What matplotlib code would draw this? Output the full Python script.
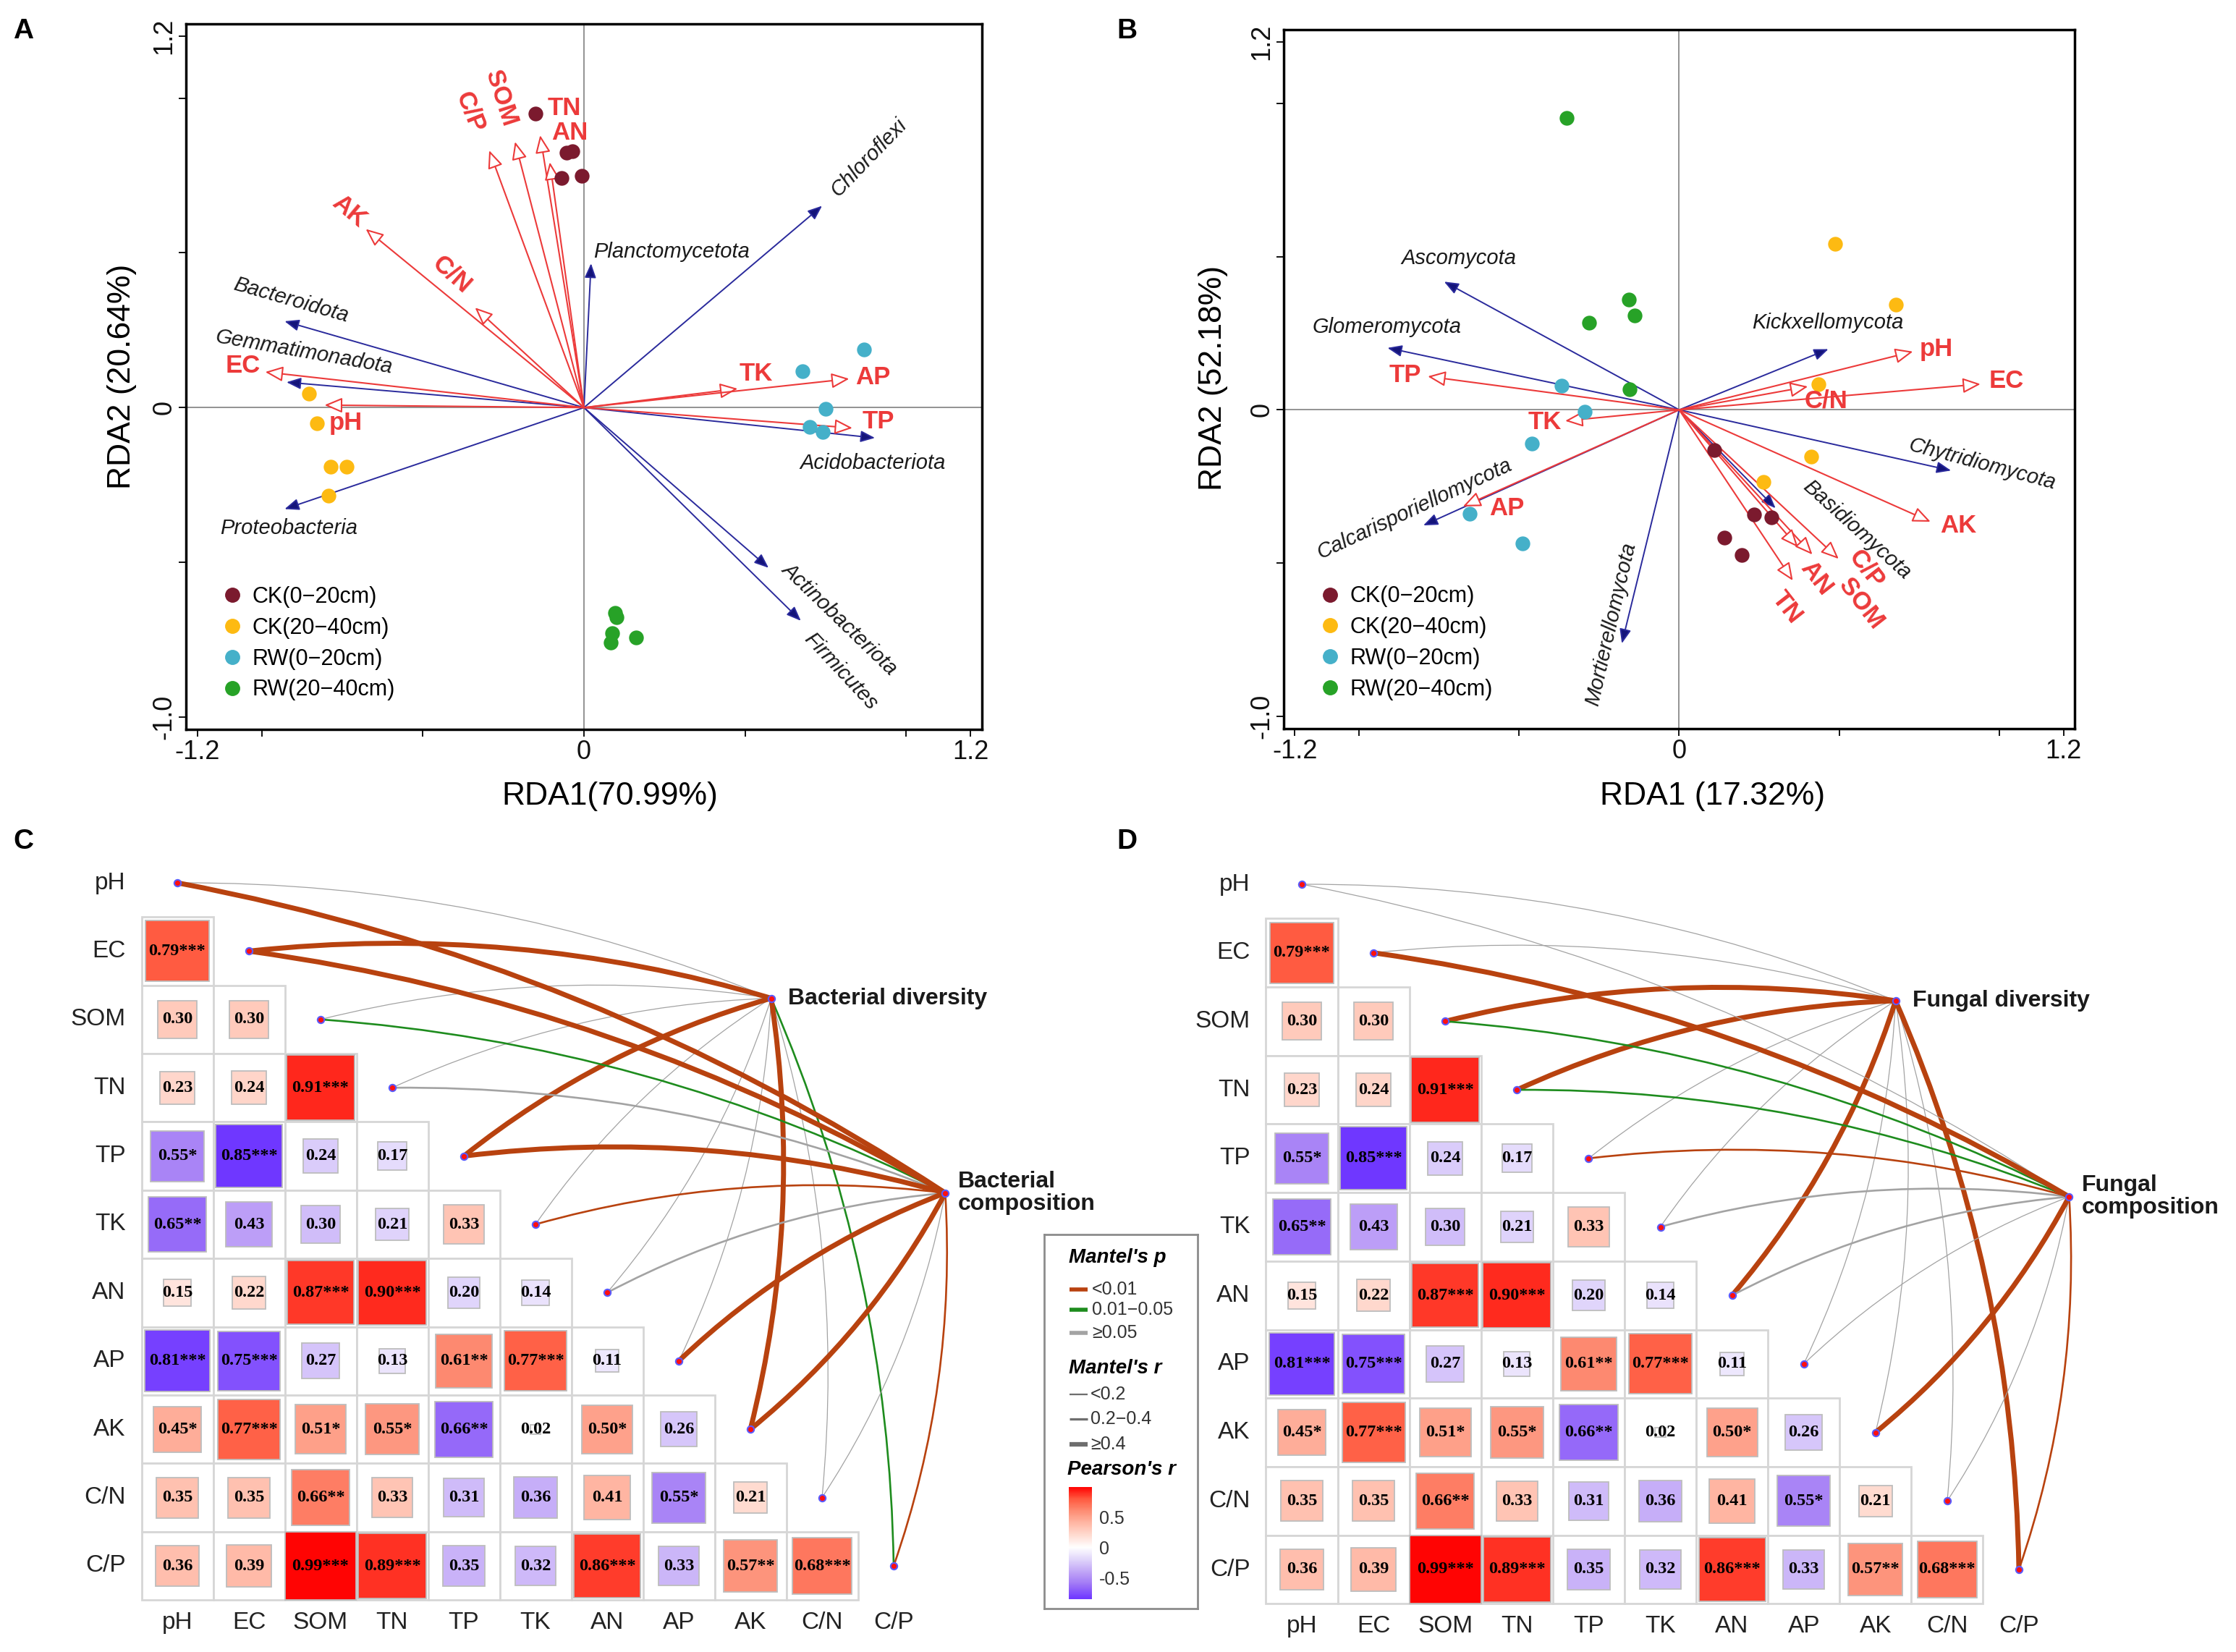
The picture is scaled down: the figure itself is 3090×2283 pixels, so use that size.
import numpy as np
import matplotlib
matplotlib.use("Agg")
import matplotlib.pyplot as plt
from matplotlib.colors import LinearSegmentedColormap, Normalize
from matplotlib.patches import Rectangle, FancyArrowPatch
from matplotlib.lines import Line2D

plt.rcParams['font.family'] = ['Liberation Sans', 'DejaVu Sans']

W, H = 3090, 2283

# ---------------- RDA data ----------------
groups = ["CK(0\u221220cm)", "CK(20\u221240cm)", "RW(0\u221220cm)", "RW(20\u221240cm)"]
group_colors = ["#7B1A2E", "#FDBA12", "#45B0C9", "#27A227"]

# panel A sample scores (bacteria)
a_ck1_x = [-0.150, -0.054, -0.036, -0.070, -0.006]
a_ck1_y = [0.951, 0.823, 0.828, 0.741, 0.749]
a_ck2_x = [-0.853, -0.829, -0.785, -0.737, -0.793]
a_ck2_y = [0.044, -0.051, -0.190, -0.190, -0.284]
a_rw1_x = [0.869, 0.679, 0.751, 0.701, 0.741]
a_rw1_y = [0.187, 0.118, -0.003, -0.062, -0.080]
a_rw2_x = [0.096, 0.100, 0.088, 0.084, 0.162]
a_rw2_y = [-0.664, -0.677, -0.728, -0.759, -0.744]

env_names = ["pH", "EC", "SOM", "TN", "TP", "TK", "AN", "AP", "AK", "C/N", "C/P"]
a_env_x = [-0.805, -0.989, -0.214, -0.136, 0.833, 0.477, -0.106, 0.823, -0.677, -0.338, -0.294]
a_env_y = [0.008, 0.115, 0.859, 0.880, -0.066, 0.061, 0.793, 0.093, 0.577, 0.323, 0.831]

a_taxa = ["Chloroflexi", "Planctomycetota", "Bacteroidota", "Gemmatimonadota",
          "Proteobacteria", "Acidobacteriota", "Actinobacteriota", "Firmicutes"]
a_taxa_x = [0.739, 0.022, -0.929, -0.923, -0.929, 0.903, 0.573, 0.673]
a_taxa_y = [0.652, 0.466, 0.279, 0.082, -0.328, -0.098, -0.518, -0.689]

# panel B sample scores (fungi)
b_ck1_x = [0.110, 0.234, 0.287, 0.142, 0.195]
b_ck1_y = [-0.131, -0.342, -0.350, -0.417, -0.474]
b_ck2_x = [0.486, 0.677, 0.436, 0.413, 0.264]
b_ck2_y = [0.542, 0.344, 0.084, -0.152, -0.235]
b_rw1_x = [-0.367, -0.294, -0.459, -0.654, -0.489]
b_rw1_y = [0.079, -0.007, -0.111, -0.339, -0.436]
b_rw2_x = [-0.351, -0.156, -0.138, -0.282, -0.154]
b_rw2_y = [0.952, 0.360, 0.307, 0.283, 0.066]

b_env_x = [0.730, 0.941, 0.416, 0.355, -0.785, -0.356, 0.371, -0.675, 0.785, 0.402, 0.498]
b_env_y = [0.190, 0.084, -0.472, -0.557, 0.109, -0.036, -0.448, -0.315, -0.365, 0.076, -0.486]

b_taxa = ["Ascomycota", "Glomeromycota", "Kickxellomycota", "Chytridiomycota",
          "Basidiomycota", "Calcarisporiellomycota", "Mortierellomycota"]
b_taxa_x = [-0.734, -0.911, 0.466, 0.849, 0.301, -0.799, -0.179]
b_taxa_y = [0.418, 0.202, 0.198, -0.198, -0.321, -0.377, -0.762]

# label placement (x, y, rotation)
a_env_lab = {"pH": (-0.739, -0.049, 0), "EC": (-1.059, 0.134, 0), "SOM": (-0.258, 1.0, -72),
             "TN": (-0.062, 0.967, 0), "TP": (0.913, -0.046, 0), "TK": (0.533, 0.110, 0),
             "AN": (-0.044, 0.889, 0), "AP": (0.897, 0.098, 0), "AK": (-0.729, 0.634, -40),
             "C/N": (-0.409, 0.430, -42), "C/P": (-0.354, 0.954, -68)}
a_taxa_lab = [(0.883, 0.807, 46), (0.272, 0.503, 0), (-0.909, 0.348, -16), (-0.869, 0.179, -10),
              (-0.915, -0.390, 0), (0.897, -0.180, 0), (0.793, -0.682, -44), (0.797, -0.852, -47)]
b_env_lab = {"pH": (0.803, 0.198, 0), "EC": (1.021, 0.093, 0), "SOM": (0.568, -0.632, -52),
             "TN": (0.337, -0.644, -52), "TP": (-0.856, 0.112, 0), "TK": (-0.420, -0.041, 0),
             "AN": (0.428, -0.550, -52), "AP": (-0.539, -0.322, 0), "AK": (0.872, -0.379, 0),
             "C/N": (0.459, 0.030, 0), "C/P": (0.584, -0.519, -52)}
b_taxa_lab = [(-0.688, 0.493, 0), (-0.913, 0.269, 0), (0.464, 0.283, 0), (0.945, -0.177, -15),
              (0.555, -0.392, -42), (-0.826, -0.322, 25), (-0.213, -0.698, 77)]

# ---------------- correlation / Mantel data ----------------
pearson_r = [
    [0.79],
    [0.30, 0.30],
    [0.23, 0.24, 0.91],
    [-0.55, -0.85, -0.24, -0.17],
    [-0.65, -0.43, -0.30, -0.21, 0.33],
    [0.15, 0.22, 0.87, 0.90, -0.20, -0.14],
    [-0.81, -0.75, -0.27, -0.13, 0.61, 0.77, -0.11],
    [0.45, 0.77, 0.51, 0.55, -0.66, 0.02, 0.50, -0.26],
    [0.35, 0.35, 0.66, 0.33, -0.31, -0.36, 0.41, -0.55, 0.21],
    [0.36, 0.39, 0.99, 0.89, -0.35, -0.32, 0.86, -0.33, 0.57, 0.68],
]
pearson_stars = [
    [3],
    [0, 0],
    [0, 0, 3],
    [1, 3, 0, 0],
    [2, 0, 0, 0, 0],
    [0, 0, 3, 3, 0, 0],
    [3, 3, 0, 0, 2, 3, 0],
    [1, 3, 1, 1, 2, 0, 1, 0],
    [0, 0, 2, 0, 0, 0, 0, 1, 0],
    [0, 0, 3, 3, 0, 0, 3, 0, 2, 3],
]

# Mantel test classes for each env variable (order of env_names)
bac_div_p = ["ns", "<0.01", "ns", "ns", "<0.01", "ns", "ns", "ns", "<0.01", "ns", "0.01-0.05"]
bac_div_r = ["<0.2", ">=0.4", "<0.2", "<0.2", ">=0.4", "<0.2", "<0.2", "<0.2", ">=0.4", "<0.2", "0.2-0.4"]
bac_com_p = ["<0.01", "<0.01", "0.01-0.05", "ns", "<0.01", "<0.01", "ns", "<0.01", "<0.01", "ns", "<0.01"]
bac_com_r = [">=0.4", ">=0.4", "0.2-0.4", "0.2-0.4", ">=0.4", "0.2-0.4", "0.2-0.4", ">=0.4", ">=0.4", "<0.2", "0.2-0.4"]
fun_div_p = ["ns", "ns", "<0.01", "<0.01", "ns", "ns", "<0.01", "ns", "ns", "ns", "<0.01"]
fun_div_r = ["<0.2", "<0.2", ">=0.4", ">=0.4", "<0.2", "<0.2", ">=0.4", "<0.2", "<0.2", "<0.2", ">=0.4"]
fun_com_p = ["ns", "<0.01", "0.01-0.05", "0.01-0.05", "<0.01", "ns", "ns", "ns", "<0.01", "ns", "<0.01"]
fun_com_r = ["<0.2", ">=0.4", "0.2-0.4", "0.2-0.4", "0.2-0.4", "0.2-0.4", "0.2-0.4", "<0.2", ">=0.4", "<0.2", "0.2-0.4"]

p_colors = {"<0.01": "#B8420F", "0.01-0.05": "#1E8C1E", "ns": "#A3A3A3"}
r_widths = {"<0.2": 0.9, "0.2-0.4": 1.9, ">=0.4": 5.0}

cmap = LinearSegmentedColormap.from_list("rb", [
    (0.0, "#5314FF"), (0.1, "#7843FF"), (0.2, "#A27AF6"), (0.3, "#C1A6F7"),
    (0.4, "#E0D5FB"), (0.5, "#FFFFFF"), (0.6, "#FFDCD2"), (0.7, "#FFB8A5"),
    (0.8, "#FD8D74"), (0.9, "#FF5A40"), (1.0, "#FF0000")])
norm = Normalize(-1, 1)

RED = "#EC3A3A"
NAVY = "#2A2A9C"


def px_rect(x0, y0, x1, y1):
    return [x0 / W, 1 - y1 / H, (x1 - x0) / W, (y1 - y0) / H]


fig = plt.figure(figsize=(W / 100, H / 100), dpi=100)


def rda_panel(rect, samples, env_x, env_y, env_lab, taxa, tx, ty, taxa_lab, xlabel, ylabel, xl_pos, yl_pos):
    ax = fig.add_axes(rect)
    ax.set_xlim(-1.235, 1.235)
    ax.set_ylim(-1.04, 1.24)
    ax.axhline(0, color="#8a8a8a", lw=1.3, zorder=1)
    ax.axvline(0, color="#8a8a8a", lw=1.3, zorder=1)
    for sx, sy, c in samples:
        ax.scatter(sx, sy, s=215, color=c, lw=0, zorder=4)
    for name, x, y in zip(env_names, env_x, env_y):
        ax.annotate("", xy=(x, y), xytext=(0, 0), annotation_clip=False,
                    arrowprops=dict(arrowstyle="-|>,head_length=0.75,head_width=0.32",
                                    ec=RED, fc="white", lw=1.5, shrinkA=0, shrinkB=0,
                                    mutation_scale=20), zorder=3)
        lx, ly, rot = env_lab[name]
        ax.text(lx, ly, name, color=RED, fontsize=25, fontweight="bold", rotation=rot,
                ha="center", va="center", rotation_mode="anchor", zorder=5)
    for name, x, y, (lx, ly, rot) in zip(taxa, tx, ty, taxa_lab):
        ax.annotate("", xy=(x, y), xytext=(0, 0), annotation_clip=False,
                    arrowprops=dict(arrowstyle="-|>,head_length=0.75,head_width=0.3",
                                    ec=NAVY, fc="#14147A", lw=1.4, shrinkA=0, shrinkB=0,
                                    mutation_scale=16), zorder=2)
        ax.text(lx, ly, name, color="#1a1a1a", fontsize=21, fontstyle="italic", rotation=rot,
                ha="center", va="center", rotation_mode="anchor", zorder=5)
    ax.set_xticks([-1.2, -1.0, -0.5, 0, 0.5, 1.0, 1.2])
    ax.set_xticklabels(["-1.2", "", "", "0", "", "", "1.2"])
    ax.set_yticks([-1.0, -0.5, 0, 0.5, 1.0, 1.2])
    ax.set_yticklabels(["-1.0", "", "0", "", "", "1.2"], rotation=90, va="center")
    ax.tick_params(direction="out", length=7, width=1.4, labelsize=26, pad=3, colors="#111111")
    ax.tick_params(axis="y", pad=2)
    for s in ax.spines.values():
        s.set_linewidth(2.5)
    ax.set_xlabel(xlabel, fontsize=32)
    ax.set_ylabel(ylabel, fontsize=32)
    ax.xaxis.set_label_coords(*xl_pos)
    ax.yaxis.set_label_coords(*yl_pos)
    handles = [Line2D([], [], marker="o", ls="", color=c, markersize=14) for c in group_colors]
    ax.legend(handles, groups, loc="lower left", bbox_to_anchor=(0.036, 0.028), frameon=False,
              fontsize=22, handlelength=0.8, handletextpad=0.5, labelspacing=0.42, borderaxespad=0)
    return ax


samples_a = [(a_ck1_x, a_ck1_y, group_colors[0]), (a_ck2_x, a_ck2_y, group_colors[1]),
             (a_rw1_x, a_rw1_y, group_colors[2]), (a_rw2_x, a_rw2_y, group_colors[3])]
samples_b = [(b_ck1_x, b_ck1_y, group_colors[0]), (b_ck2_x, b_ck2_y, group_colors[1]),
             (b_rw1_x, b_rw1_y, group_colors[2]), (b_rw2_x, b_rw2_y, group_colors[3])]

rda_panel(px_rect(257, 33, 1357, 1008), samples_a, a_env_x, a_env_y, a_env_lab,
          a_taxa, a_taxa_x, a_taxa_y, a_taxa_lab, "RDA1(70.99%)", "RDA2 (20.64%)",
          (0.533, -0.074), (-0.062, 0.5))
rda_panel(px_rect(1774, 41, 2867, 1007), samples_b, b_env_x, b_env_y, b_env_lab,
          b_taxa, b_taxa_x, b_taxa_y, b_taxa_lab, "RDA1 (17.32%)", "RDA2 (52.18%)",
          (0.5425, -0.076), (-0.07, 0.502))


def network_panel(rect, xlim, ylim, div_node, com_node, div_label, com_label,
                  div_p, div_r, com_p, com_r):
    ax = fig.add_axes(rect)
    ax.set_xlim(*xlim)
    ax.set_ylim(*ylim)
    ax.axis("off")
    n = len(env_names)
    # grid cells and squares
    for i in range(1, n):
        for j in range(i):
            r = pearson_r[i - 1][j]
            ax.add_patch(Rectangle((j - 0.5, i - 0.5), 1, 1, fc="white", ec="#D6D6D6", lw=2, zorder=1))
            side = np.sqrt(abs(r))
            ax.add_patch(Rectangle((j - side / 2, i - side / 2), side, side, fc=cmap(norm(r)),
                                   ec="#BDBDBD", lw=1.3, zorder=2))
            ax.text(j, i, f"{abs(r):.2f}" + "*" * pearson_stars[i - 1][j], ha="center", va="center",
                    fontsize=17.5, fontweight="bold", family=["Liberation Serif", "DejaVu Serif"], zorder=3)
    for k, name in enumerate(env_names):
        ax.text(-0.72, k, name, ha="right", va="center", fontsize=24, color="#222222")
        ax.text(k, 10.83, name, ha="center", va="center", fontsize=24, color="#222222")
    # Mantel links
    for node, pcls, rcls in ((div_node, div_p, div_r), (com_node, com_p, com_r)):
        order = sorted(range(n), key=lambda k: {"ns": 0, "0.01-0.05": 1, "<0.01": 2}[pcls[k]])
        for k in order:
            a = ax.transData.transform((k, k))
            b = ax.transData.transform(node)
            dx, dy = b - a
            rad = 0.1 if (dy - dx) > 0 else -0.1
            ax.add_patch(FancyArrowPatch((k, k), node, connectionstyle=f"arc3,rad={rad}",
                                         arrowstyle="-", color=p_colors[pcls[k]],
                                         lw=r_widths[rcls[k]], shrinkA=0, shrinkB=0,
                                         capstyle="round", zorder=4))
    ax.scatter(range(n), range(n), s=45, c="#FF1010", edgecolors="#5A5AFF", linewidths=1.5, zorder=6)
    ax.scatter([div_node[0], com_node[0]], [div_node[1], com_node[1]], s=45, c="#FF1010",
               edgecolors="#5A5AFF", linewidths=1.5, zorder=6)
    ax.text(div_node[0] + 0.24, div_node[1], div_label, ha="left", va="center",
            fontsize=23, fontweight="bold", color="#1a1a1a")
    ax.text(com_node[0] + 0.18, com_node[1], com_label, ha="left", va="center",
            fontsize=23, fontweight="bold", color="#1a1a1a", linespacing=1.05)
    return ax


network_panel(px_rect(100, 1150, 1440, 2283), ((100 - 245) / 99, (1440 - 245) / 99),
              ((2283 - 1220) / 94.4, (1150 - 1220) / 94.4), (8.29, 1.69), (10.72, 4.54),
              "Bacterial diversity", "Bacterial\ncomposition",
              bac_div_p, bac_div_r, bac_com_p, bac_com_r)
network_panel(px_rect(1700, 1150, 3090, 2283), ((1700 - 1799) / 99.1, (3090 - 1799) / 99.1),
              ((2283 - 1222) / 94.7, (1150 - 1222) / 94.7), (8.28, 1.70), (10.70, 4.56),
              "Fungal diversity", "Fungal\ncomposition",
              fun_div_p, fun_div_r, fun_com_p, fun_com_r)

# ---------------- shared legend ----------------
lax = fig.add_axes(px_rect(1443, 1706, 1655, 2223))
lax.set_xlim(0, 212)
lax.set_ylim(517, 0)
lax.set_xticks([])
lax.set_yticks([])
for s in lax.spines.values():
    s.set_color("#8C8C8C")
    s.set_linewidth(2)
lax.text(34, 32, "Mantel's p", fontsize=20, fontweight="bold", fontstyle="italic", va="center")
for yy, key, lab in ((76, "<0.01", "<0.01"), (104, "0.01-0.05", "0.01\u22120.05"), (136, "ns", "\u22650.05")):
    lax.plot([35, 60], [yy, yy], color=p_colors[key], lw=4, solid_capstyle="butt")
    lax.text(66, yy, lab, fontsize=18, va="center", color="#333333")
lax.text(34, 185, "Mantel's r", fontsize=20, fontweight="bold", fontstyle="italic", va="center")
for yy, key, lab in ((221, "<0.2", "<0.2"), (255, "0.2-0.4", "0.2\u22120.4"), (290, ">=0.4", "\u22650.4")):
    lax.plot([35, 60], [yy, yy], color="#6E6E6E", lw=r_widths[key] * 0.7 + 1.0, solid_capstyle="butt")
    lax.text(64, yy, lab, fontsize=18, va="center", color="#333333")
lax.text(32, 325, "Pearson's r", fontsize=20, fontweight="bold", fontstyle="italic", va="center")

all_r = [v for row in pearson_r for v in row]
rmin, rmax = min(all_r), max(all_r)
cax = fig.add_axes(px_rect(1477, 2055, 1509, 2210))
cax.imshow(np.linspace(rmax, rmin, 256)[:, None], cmap=cmap, norm=norm, aspect="auto",
           extent=(0, 1, rmin, rmax))
cax.set_xticks([])
cax.yaxis.tick_right()
cax.set_yticks([0.5, 0, -0.5])
cax.set_yticklabels(["0.5", "0", "-0.5"])
cax.tick_params(axis="y", length=0, pad=7, labelsize=18, labelcolor="#333333")
for s in cax.spines.values():
    s.set_visible(False)

# panel letters
for lab, x, y in (("A", 32, 43), ("B", 1557, 43), ("C", 32, 1163), ("D", 1557, 1163)):
    fig.text(x / W, 1 - y / H, lab, fontsize=28, fontweight="bold", ha="center", va="center")

fig.savefig("out.png", dpi=100)
